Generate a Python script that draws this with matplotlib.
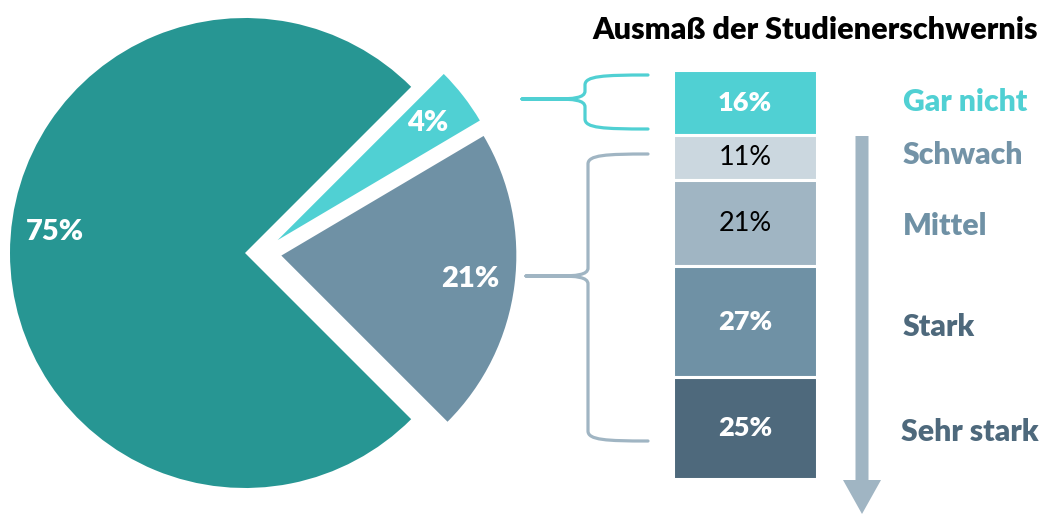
import matplotlib
matplotlib.use("Agg")
import matplotlib.pyplot as plt
from matplotlib.path import Path
from matplotlib.patches import PathPatch, FancyArrow
import numpy as np

plt.rcParams['font.family'] = ['Lato', 'DejaVu Sans']
BOLD = "heavy"

# ---- data ----
pie_values = [75, 21, 4]
pie_labels = ["75%", "21%", "4%"]
pie_colors = ["#279693", "#6F91A5", "#50D0D3"]

bar_categories = ["Gar nicht", "Schwach", "Mittel", "Stark", "Sehr stark"]
bar_values = [16, 11, 21, 27, 25]
bar_colors = ["#50D0D3", "#CBD7DF", "#A0B5C3", "#6F91A5", "#4E697C"]
bar_text_colors = ["white", "black", "black", "white", "white"]
bar_text_bold = [True, False, False, True, True]
cat_colors = ["#50D0D3", "#7393A7", "#6F91A5", "#4E697C", "#4E697C"]
title = "Ausmaß der Studienerschwernis"

W, H = 1043, 515
fig = plt.figure(figsize=(W / 100, H / 100), dpi=100)
ax = fig.add_axes([0, 0, 1, 1])

def Y(y):
    return H - y

# ---- pie ----
cx, cy, R = 261, Y(253), 235
explode_px = [16, 20.5, 21]
wedges, _ = ax.pie(pie_values, colors=pie_colors, explode=explode_px,
                   startangle=45, counterclock=True, center=(cx, cy), radius=R,
                   wedgeprops=dict(linewidth=0))
angles = np.cumsum([0] + pie_values)
for i, lab in enumerate(pie_labels):
    mid = np.deg2rad(45 + (angles[i] + angles[i + 1]) / 2 * 3.6)
    d = explode_px[i] + 0.81 * R
    x = cx + d * np.cos(mid)
    y = cy + d * np.sin(mid)
    if i == 0:
        y += 21
    ax.text(x, y, lab, color="white", fontsize=21, fontweight=BOLD,
            ha="center", va="center")

ax.set_xlim(0, W)
ax.set_ylim(0, H)
ax.set_aspect("equal")
ax.axis("off")

# ---- braces ----
def brace(x_end, y_top, y_bot, x_mid, x_tip, y_tip, color):
    verts = [(x_end, y_top), (x_mid + 18, y_top), (x_mid, y_top + 1), (x_mid, y_top + 10),
             (x_mid, y_tip - 8),
             (x_mid, y_tip - 1), (x_mid - 12, y_tip), (x_mid - 30, y_tip),
             (x_tip, y_tip),
             (x_mid - 30, y_tip),
             (x_mid - 12, y_tip), (x_mid, y_tip + 1), (x_mid, y_tip + 8),
             (x_mid, y_bot - 10),
             (x_mid, y_bot - 1), (x_mid + 18, y_bot), (x_end, y_bot)]
    codes = [Path.MOVETO, Path.CURVE4, Path.CURVE4, Path.CURVE4,
             Path.LINETO,
             Path.CURVE4, Path.CURVE4, Path.CURVE4,
             Path.LINETO, Path.LINETO,
             Path.CURVE4, Path.CURVE4, Path.CURVE4,
             Path.LINETO,
             Path.CURVE4, Path.CURVE4, Path.CURVE4]
    verts = [(x, Y(y)) for x, y in verts]
    ax.add_patch(PathPatch(Path(verts, codes), fill=False, edgecolor=color,
                           linewidth=2.3, capstyle="round", joinstyle="round"))

brace(648, 75, 129, 585, 522, 99, "#50D0D3")
brace(648, 154, 441, 588, 526, 276, "#A0B5C3")

# ---- arrow ----
ax.add_patch(FancyArrow(862, Y(136), 0, -(Y(136) - Y(514)), width=13, head_width=38,
                        head_length=34, length_includes_head=True,
                        color="#A0B5C3", linewidth=0))

# ---- stacked bar ----
bx0, bx1, by0, by1 = 673, 817, 70, 479
ax2 = fig.add_axes([bx0 / W, (H - by1) / H, (bx1 - bx0) / W, (by1 - by0) / H])
bottoms = np.concatenate([[0], np.cumsum(bar_values)[:-1]])
ax2.bar([0] * len(bar_values), bar_values, bottom=bottoms, width=1.0,
        color=bar_colors, edgecolor="white", linewidth=2.2)
for v, b, tc, bold in zip(bar_values, bottoms, bar_text_colors, bar_text_bold):
    ax2.text(0, b + v / 2, f"{v}%", color=tc, fontsize=19.5,
             fontweight=BOLD if bold else "normal", ha="center", va="center")
ax2.set_xlim(-0.5, 0.5)
ax2.set_ylim(100, 0)
ax2.axis("off")

# category labels to the right of the bar
label_y = [102, 155, 226, 327, 432]
label_x = [903, 903, 903, 903, 901]
for cat, x, y, c in zip(bar_categories, label_x, label_y, cat_colors):
    ax.text(x, Y(y), cat, color=c, fontsize=21.7, fontweight=BOLD,
            ha="left", va="center")

ax.text(815, Y(30), title, color="black", fontsize=22, fontweight=BOLD,
        ha="center", va="center")

fig.savefig("out.png", dpi=100)
